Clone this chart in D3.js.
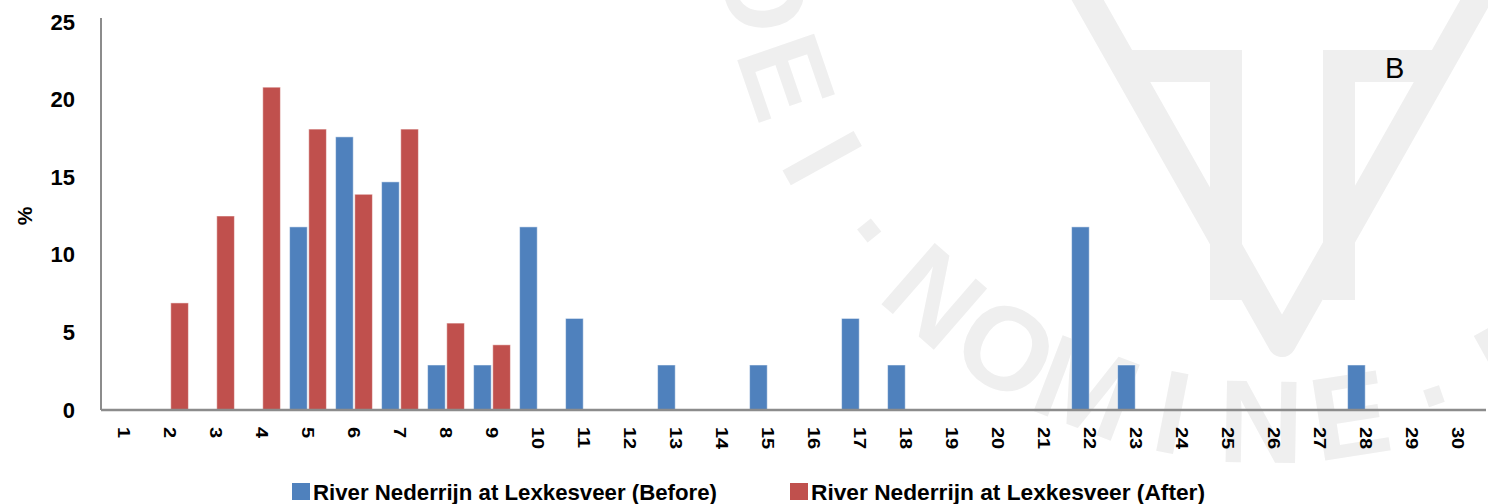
<!DOCTYPE html>
<html>
<head>
<meta charset="utf-8">
<script src="https://cdn.jsdelivr.net/npm/d3@7"></script>
<style>
  body { margin: 0; background: #fff; }
  text { font-family: "Liberation Sans", Arial, sans-serif; }
</style>
</head>
<body>
<div id="div_graph"></div>
<script>
// categories (class number) and % per class
var categories = d3.range(1, 31).map(String);
var beforeValues = [0,0,0,0,11.8,17.6,14.7,2.9,2.9,11.8,5.9,0,2.9,0,2.9,0,5.9,2.9,0,0,0,11.8,2.9,0,0,0,0,2.9,0,0];
var afterValues  = [0,6.9,12.5,20.8,18.1,13.9,18.1,5.6,4.2,0,0,0,0,0,0,0,0,0,0,0,0,0,0,0,0,0,0,0,0,0];
var seriesNames = ["River Nederrijn at Lexkesveer (Before)", "River Nederrijn at Lexkesveer (After)"];
var seriesKeys = ["before", "after"];
var yTicks = [0, 5, 10, 15, 20, 25];
var sealText = "DEI·NOMINE·F";

var width = 1488, height = 504;
var margin = {top: 22, left: 101, bottom: 410, right: 1481};

var colors = {before: "#4f81bd", after: "#c0504d"};

var svg = d3.select('#div_graph')
  .append('svg')
    .attr('width', width)
    .attr('height', height);

svg.append('rect').attr('width', width).attr('height', height).attr('fill', '#fff');

// faint seal watermark in the background
var wm = svg.append('g').attr('id', 'watermark');
var wmColor = "#efefef";

wm.append('path')
  .attr('d', 'M1082,-10 L1282,343 L1482,-10')
  .attr('fill', 'none')
  .attr('stroke', wmColor)
  .attr('stroke-width', 28)
  .attr('stroke-linejoin', 'round');
wm.append('path')
  .attr('d', 'M1226,50 L1226,300 M1339,50 L1339,300')
  .attr('stroke', wmColor)
  .attr('stroke-width', 32);
wm.append('path')
  .attr('d', 'M1120,66 L1242,66 M1323,66 L1442,66')
  .attr('stroke', wmColor)
  .attr('stroke-width', 32);

// seal lettering, one glyph per step round the circle
var sealR = 510, scx = 1270, scy = -90;
var sealAngle = d3.scaleLinear().domain([0, 1]).range([171, 161]);
wm.append('g')
  .selectAll('text')
  .data(sealText.split(''))
  .enter().append('text')
    .attr('transform', function(d, i) {
      var a = sealAngle(i), r = a * Math.PI / 180;
      return 'translate(' + (scx + sealR * Math.cos(r)) + ',' + (scy + sealR * Math.sin(r)) + ') rotate(' + (a - 90) + ')';
    })
    .attr('text-anchor', 'middle')
    .attr('dy', '0.36em')
    .attr('fill', wmColor)
    .style('font-size', '118px')
    .style('font-weight', 'bold')
    .text(function(d) { return d; });

// scales
var x = d3.scaleBand()
  .domain(categories)
  .range([margin.left, margin.right])
  .paddingInner(0.2)
  .paddingOuter(0.1);

var xSub = d3.scaleBand()
  .domain(seriesKeys)
  .range([0, x.bandwidth()])
  .paddingInner(0.08);

var y = d3.scaleLinear()
  .domain([0, 25])
  .range([margin.bottom, margin.top]);

var rows = categories.map(function(c, i) {
  return {cat: c, before: beforeValues[i], after: afterValues[i]};
});

// bars
var groups = svg.append('g')
  .attr('class', 'bars')
  .selectAll('g')
  .data(rows)
  .enter().append('g')
    .attr('transform', function(d) { return 'translate(' + x(d.cat) + ',0)'; });

groups.selectAll('rect')
  .data(function(d) { return seriesKeys.map(function(k) { return {key: k, value: d[k]}; }); })
  .enter().filter(function(d) { return d.value > 0; })
  .append('rect')
    .attr('x', function(d) { return xSub(d.key); })
    .attr('y', function(d) { return y(d.value); })
    .attr('width', xSub.bandwidth())
    .attr('height', function(d) { return y(0) - y(d.value); })
    .attr('fill', function(d) { return colors[d.key]; })
    .attr('stroke', '#fff')
    .attr('stroke-opacity', 0.5)
    .attr('stroke-width', 1);

// y axis
var yAxis = svg.append('g')
  .attr('transform', 'translate(' + margin.left + ',0)')
  .call(d3.axisLeft(y).tickValues(yTicks).tickSize(0).tickPadding(26));
yAxis.select('.domain').remove();
yAxis.selectAll('text')
  .attr('fill', '#000')
  .style('font-size', '22px')
  .style('font-weight', 'bold')
  .style('font-family', '"Liberation Sans", Arial, sans-serif');

svg.append('line')
  .attr('x1', margin.left).attr('x2', margin.left)
  .attr('y1', 18).attr('y2', y(0))
  .attr('stroke', '#8c8c8c')
  .attr('stroke-width', 2);

// x axis
var xAxis = svg.append('g')
  .attr('transform', 'translate(0,' + y(0) + ')')
  .call(d3.axisBottom(x).tickSize(0));
xAxis.select('.domain').remove();
xAxis.selectAll('text')
  .attr('x', 0)
  .attr('y', 0)
  .attr('dy', '0.36em')
  .attr('fill', '#000')
  .attr('transform', 'translate(0,17) rotate(90) scale(1,0.85)')
  .style('text-anchor', 'start')
  .style('font-size', '20px')
  .style('font-weight', 'bold')
  .style('font-family', '"Liberation Sans", Arial, sans-serif');

svg.append('line')
  .attr('x1', margin.left).attr('x2', 1486)
  .attr('y1', y(0)).attr('y2', y(0))
  .attr('stroke', '#8c8c8c')
  .attr('stroke-width', 2.5);

// y title
svg.append('text')
  .attr('transform', 'translate(32,216) rotate(-90)')
  .attr('text-anchor', 'middle')
  .style('font-size', '21px')
  .style('font-weight', 'bold')
  .text('%');

// panel letter
svg.append('text')
  .attr('x', 1385)
  .attr('y', 78)
  .style('font-size', '29px')
  .text('B');

// legend
var legendX = [292, 790];
var legendW = [404, 394];
var legend = svg.append('g').attr('class', 'legend')
  .selectAll('g')
  .data(seriesKeys)
  .enter().append('g')
    .attr('transform', function(d, i) { return 'translate(' + legendX[i] + ',483)'; });

legend.append('rect')
  .attr('width', 18)
  .attr('height', 17)
  .attr('fill', function(d) { return colors[d]; });

legend.append('text')
  .attr('x', 21)
  .attr('y', 17)
  .attr('textLength', function(d, i) { return legendW[i]; })
  .attr('lengthAdjust', 'spacingAndGlyphs')
  .style('font-size', '22px')
  .style('font-weight', 'bold')
  .text(function(d, i) { return seriesNames[i]; });
</script>
</body>
</html>
